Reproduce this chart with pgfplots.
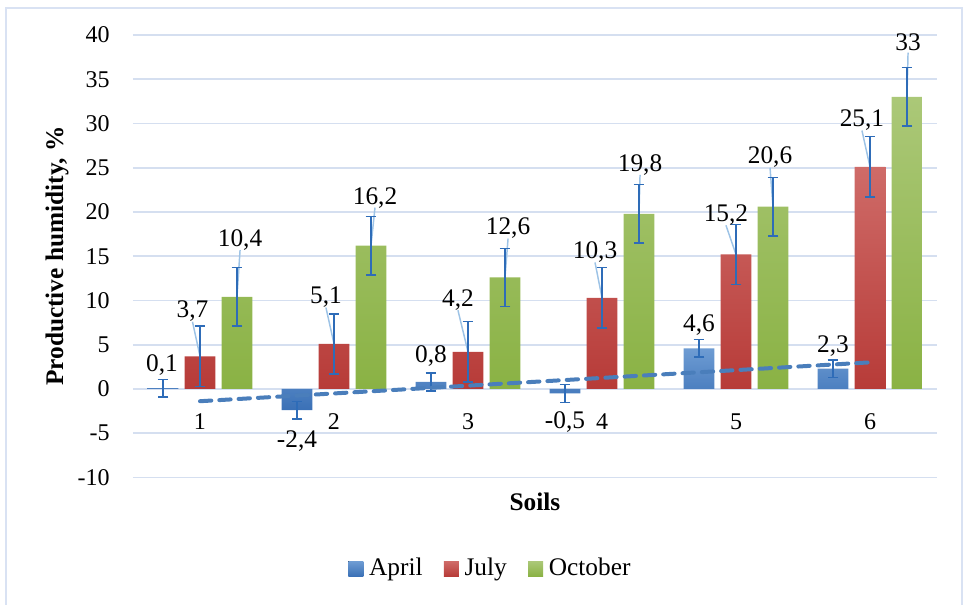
\documentclass[border=0pt]{standalone}
\usepackage{pgfplots}
\pgfplotsset{compat=1.18}
\usepackage{pgfplotstable}
\usepackage{fontspec}
\setmainfont{Liberation Serif}

\definecolor{gridc}{HTML}{D5DFF0}
\definecolor{framec}{HTML}{D9E2F3}
\definecolor{leaderc}{HTML}{9DC3E6}
\definecolor{errc}{HTML}{2E6CB8}
\definecolor{trendc}{HTML}{4A7EBB}
\definecolor{aprT}{HTML}{6E9CD3}
\definecolor{aprB}{HTML}{3A70B6}
\definecolor{julT}{HTML}{CF6B68}
\definecolor{julB}{HTML}{B73B38}
\definecolor{octT}{HTML}{ABC878}
\definecolor{octB}{HTML}{8AB244}

\pgfplotstableread{
x y err
1 0.1 1
2 -2.4 1
3 0.8 1
4 -0.5 1
5 4.6 1
6 2.3 1
}\april
\pgfplotstableread{
x y err
1 3.7 3.4
2 5.1 3.4
3 4.2 3.4
4 10.3 3.4
5 15.2 3.4
6 25.1 3.4
}\july
\pgfplotstableread{
x y err
1 10.4 3.3
2 16.2 3.3
3 12.6 3.3
4 19.8 3.3
5 20.6 3.3
6 33 3.3
}\october
\pgfplotstableread{
x y lbl
0.716 2.7 0,1
0.944 8.8 3,7
1.299 16.8 10,4
1.724 -5.9 -2,4
1.940 10.4 5,1
2.306 21.6 16,2
2.724 3.7 0,8
2.925 10.1 4,2
3.299 18.2 12,6
3.724 -3.7 -0,5
3.948 15.5 10,3
4.284 25.3 19,8
4.724 7.2 4,6
4.925 19.7 15,2
5.254 26.2 20,6
5.724 4.9 2,3
5.940 30.4 25,1
6.284 39.2 33
}\labels

\begin{document}
\begin{tikzpicture}
\useasboundingbox (-99.75pt,-94.875pt) rectangle (627.75pt,358.125pt);
\clip (-99.75pt,-94.875pt) rectangle (627.75pt,358.125pt);
\draw[framec, line width=1.5pt] (-95.25pt,-200pt) rectangle (621.75pt,352.1pt);
\begin{axis}[
  at={(0pt,0pt)}, anchor=south west,
  scale only axis, width=603pt, height=331.9pt,
  xmin=0.5, xmax=6.5, ymin=-10, ymax=40,
  axis x line=middle, axis y line=left,
  x axis line style={gridc, line width=1.2pt, -},
  y axis line style={draw=none},
  major tick length=0pt,
  xtick={1,2,3,4,5,6}, ytick={-10,-5,0,5,10,15,20,25,30,35,40},
  ymajorgrids, grid style={gridc, line width=1.2pt},
  /pgf/number format/assume math mode=true,
  tick label style={font=\fontsize{18}{20}\selectfont},
  xticklabel style={yshift=-14.7pt},
  yticklabel style={xshift=-14pt},
  every axis x label/.style={at={(axis description cs:0.5,0)}, anchor=north, yshift=-8pt},
  every axis y label/.style={at={(axis description cs:-0.0945,0.5)}, rotate=90, anchor=center},
  xlabel={Soils}, ylabel={Productive humidity, \%},
  label style={font=\fontsize{19}{22}\selectfont\bfseries},
  legend style={at={(0.445,-0.2045)}, anchor=center, draw=none, fill=none,
    legend columns=3, font=\fontsize{19}{22}\selectfont,
    /tikz/every even column/.append style={column sep=14pt}},
  legend cell align=left,
  legend image code/.code={\path (0pt,0pt) -- (13.5pt,0pt);\fill[#1,draw=none] (0pt,-6.25pt) rectangle (11.25pt,5pt);},
  error bars/y dir=both, error bars/y explicit,
  error bars/error bar style={errc, line width=1.1pt},
  error bars/error mark options={rotate=90, errc, mark size=4pt, line width=1.1pt},
]
% leader lines
\addplot[leaderc, line width=1.1pt, unbounded coords=jump, forget plot, error bars/y dir=none] coordinates {
 (0.944,7.6) (1.0,3.7) (nan,nan)
 (1.299,15.7) (1.276,10.4) (nan,nan)
 (1.940,9.2) (2.0,5.1) (nan,nan)
 (2.306,20.5) (2.276,16.2) (nan,nan)
 (2.925,8.9) (3.0,4.2) (nan,nan)
 (3.299,17.0) (3.276,12.6) (nan,nan)
 (3.948,14.3) (4.0,10.3) (nan,nan)
 (4.284,24.2) (4.276,19.8) (nan,nan)
 (4.925,18.5) (5.0,15.2) (nan,nan)
 (5.254,25.0) (5.276,20.6) (nan,nan)
 (5.940,29.2) (6.0,25.1) (nan,nan)
 (6.284,38.0) (6.276,33)
};
\addplot[ybar, bar width=0.231, bar shift=0, draw=none, top color=aprT, bottom color=aprB]
  table[x expr=\thisrow{x}-0.276, y=y, y error=err] {\april};
\addlegendentry{April}
\addplot[ybar, bar width=0.231, bar shift=0, draw=none, top color=julT, bottom color=julB]
  table[x=x, y=y, y error=err] {\july};
\addlegendentry{July}
\addplot[ybar, bar width=0.231, bar shift=0, draw=none, top color=octT, bottom color=octB]
  table[x expr=\thisrow{x}+0.276, y=y, y error=err] {\october};
\addlegendentry{October}
% linear trend of April
\addplot[trendc, line width=3pt, dash pattern=on 8.5pt off 6pt, line cap=round, forget plot, error bars/y dir=none]
  coordinates {(1,-1.38) (6,3.01)};
% data labels
\addplot[draw=none, mark=none, forget plot, error bars/y dir=none,
  nodes near coords, point meta=explicit symbolic,
  every node near coord/.append style={anchor=center, inner sep=0pt, font=\fontsize{19}{22}\selectfont}]
  table[x=x, y=y, meta=lbl] {\labels};
\end{axis}
\end{tikzpicture}
\end{document}
